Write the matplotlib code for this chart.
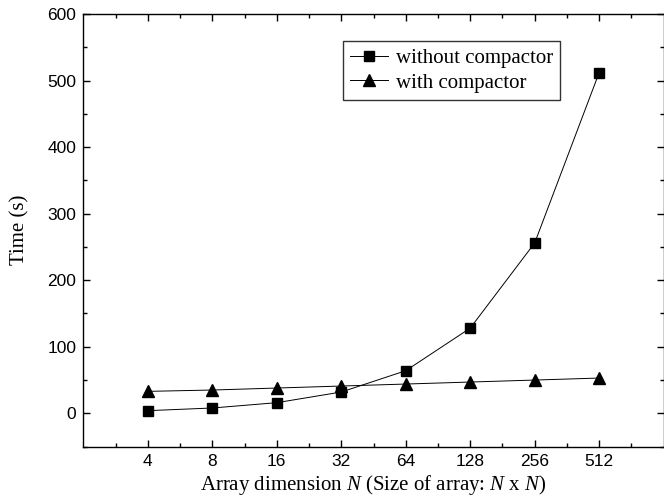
import matplotlib
matplotlib.use('Agg')
import matplotlib.pyplot as plt
from matplotlib.ticker import MultipleLocator, FixedLocator

plt.rcParams['mathtext.fontset'] = 'custom'
plt.rcParams['mathtext.rm'] = 'Liberation Serif'
plt.rcParams['mathtext.it'] = 'Liberation Serif:italic'

# Data
sizes = [4, 8, 16, 32, 64, 128, 256, 512]
without_compactor = [4, 8, 16, 32, 64, 128, 256, 512]
with_compactor = [33, 35, 38, 41, 44, 47, 50, 53]

x = list(range(len(sizes)))

fig = plt.figure(figsize=(6.64, 4.99), dpi=100)
ax = fig.add_axes([0.1255, 0.105, 0.874, 0.867])

ax.plot(x, without_compactor, 'k-', marker='s', markersize=6.5, linewidth=0.7,
        label='without compactor')
ax.plot(x, with_compactor, 'k-', marker='^', markersize=8, linewidth=0.7,
        label='with compactor')

ax.set_xlim(-1, 8)
ax.set_ylim(-50, 600)
ax.set_xticks(x)
ax.set_xticklabels([str(s) for s in sizes])
ax.xaxis.set_minor_locator(FixedLocator([i - 0.5 for i in range(0, 10)]))
ax.yaxis.set_major_locator(MultipleLocator(100))
ax.yaxis.set_minor_locator(MultipleLocator(50))

ax.tick_params(which='both', direction='in', top=True, right=True, width=1)
ax.tick_params(which='major', length=5, labelsize=12.5, pad=5)
ax.tick_params(which='minor', length=3)
for lab in ax.get_xticklabels() + ax.get_yticklabels():
    lab.set_fontfamily('Liberation Sans')
for sp in ax.spines.values():
    sp.set_linewidth(1)

serif = {'family': 'Liberation Serif', 'size': 15}
ax.set_xlabel('Array dimension $N$ (Size of array: $N$ x $N$)',
              fontdict=serif, labelpad=3)
ax.set_ylabel('Time (s)', fontdict=serif, labelpad=13)

leg = ax.legend(loc='upper left', bbox_to_anchor=(0.447, 0.9376),
                prop={'family': 'Liberation Serif', 'size': 15},
                frameon=True, fancybox=False, edgecolor='black', handlelength=1.8,
                handletextpad=0.4, borderpad=0.35, labelspacing=0.25, borderaxespad=0)
leg.get_frame().set_linewidth(1)

fig.savefig('out.png', dpi=100)
